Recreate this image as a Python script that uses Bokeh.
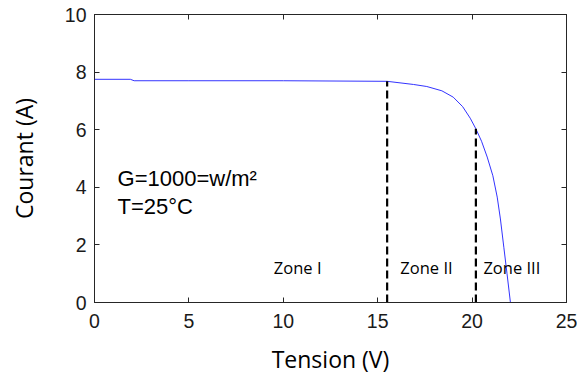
from bokeh.plotting import figure
from bokeh.models import LinearAxis, Range1d, FixedTicker, Label
from bokeh.embed import file_html
from bokeh.resources import INLINE

# I-V curve (Tension V, Courant A)
tension = [0.0, 1.9, 2.1, 5.0, 10.0, 15.5, 16.9, 17.6, 18.4, 19.0, 19.5, 19.9, 20.2, 20.5, 20.8, 21.1, 21.33, 21.5, 21.68, 21.85, 22.03]
courant = [7.75, 7.75, 7.7, 7.7, 7.7, 7.68, 7.57, 7.5, 7.35, 7.13, 6.8, 6.4, 6.03, 5.6, 5.05, 4.4, 3.66, 2.9, 1.92, 1.0, 0.0]

zone_x = [15.5, 20.2]
zone_top = [7.68, 6.03]
zone_labels = ["Zone I", "Zone II", "Zone III"]
zone_label_x = [9.5, 16.2, 20.6]

x_ticks = [0, 5, 10, 15, 20, 25]
y_ticks = [0, 2, 4, 6, 8, 10]

p = figure(width=577, height=378, output_backend="svg", toolbar_location=None,
           x_range=Range1d(0, 25), y_range=Range1d(0, 10),
           min_border_left=94, min_border_right=11, min_border_top=14, min_border_bottom=76)
p.xgrid.visible = False
p.ygrid.visible = False
p.outline_line_color = "#262626"
p.outline_line_width = 1
p.background_fill_color = "white"
p.border_fill_color = "white"

p.line(tension, courant, line_color="#3333ff", line_width=1)

for x, top in zip(zone_x, zone_top):
    p.segment(x0=[x], y0=[0], x1=[x], y1=[top], line_color="black", line_width=2.2, line_dash="8 4")

for lbl, lx in zip(zone_labels, zone_label_x):
    p.add_layout(Label(x=lx, y=1.2, text=lbl, text_font="Open Sans", text_font_size="16.5px",
                       text_baseline="middle", text_color="black"))

p.add_layout(Label(x=1.22, y=4.3, text="G=1000=w/m²", text_font="Liberation Sans", text_font_size="22px",
                   text_baseline="middle", text_color="black"))
p.add_layout(Label(x=1.22, y=3.34, text="T=25°C", text_font="Liberation Sans", text_font_size="22px",
                   text_baseline="middle", text_color="black"))

for ax, ticks in ((p.xaxis[0], x_ticks), (p.yaxis[0], y_ticks)):
    ax.ticker = FixedTicker(ticks=ticks)
    ax.major_tick_in = 5
    ax.major_tick_out = 0
    ax.minor_tick_line_color = None
    ax.axis_line_color = "#262626"
    ax.major_tick_line_color = "#262626"
    ax.major_label_text_font = "Liberation Sans"
    ax.major_label_text_font_size = "19.5px"
    ax.major_label_text_color = "#1a1a1a"
    ax.axis_label_text_font = "Open Sans"
    ax.axis_label_text_font_size = "23px"
    ax.axis_label_text_font_style = "normal"
    ax.axis_label_text_color = "black"

p.xaxis[0].axis_label = "Tension (V)"
p.yaxis[0].axis_label = "Courant (A)"
p.xaxis[0].major_label_standoff = 11
p.yaxis[0].major_label_standoff = 8
p.xaxis[0].axis_label_standoff = 12
p.yaxis[0].axis_label_standoff = 22

top_ax = LinearAxis(ticker=FixedTicker(ticks=x_ticks), major_label_overrides={t: "" for t in x_ticks},
                    major_tick_in=5, major_tick_out=0, minor_tick_line_color=None,
                    axis_line_color="#262626", major_tick_line_color="#262626")
right_ax = LinearAxis(ticker=FixedTicker(ticks=y_ticks), major_label_overrides={t: "" for t in y_ticks},
                      major_tick_in=5, major_tick_out=0, minor_tick_line_color=None,
                      axis_line_color="#262626", major_tick_line_color="#262626")
top_ax.major_label_standoff = 0
right_ax.major_label_standoff = 0
p.add_layout(top_ax, "above")
p.add_layout(right_ax, "right")

open("out.html", "w").write(file_html(p, INLINE))
